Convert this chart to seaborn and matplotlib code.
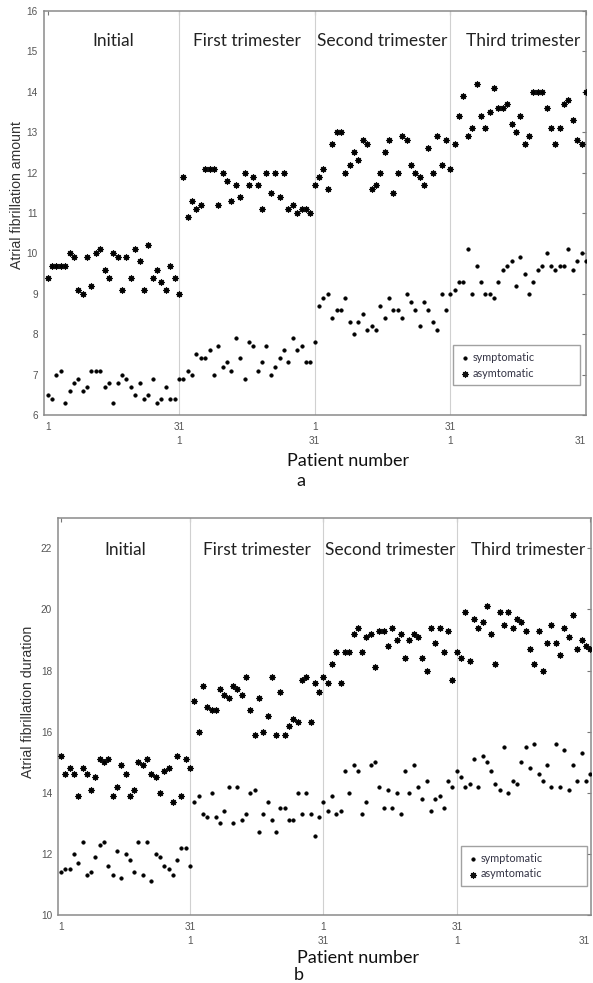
import numpy as np
import pandas as pd
import seaborn as sns
import matplotlib.pyplot as plt

sns.set_theme(style="white")
plt.rcParams['font.family'] = ['Liberation Sans', 'DejaVu Sans']

segments = ["Initial", "First trimester", "Second trimester", "Third trimester"]
groups = ["symptomatic", "asymtomatic"]
n_patients = 31

# ---- panel a: atrial fibrillation amount ----
amount_sym_initial = [6.5, 6.4, 7.0, 7.1, 6.3, 6.6, 6.8, 6.9, 6.6, 6.7, 7.1, 7.1, 7.1, 6.7, 6.8, 6.3,
                      6.8, 7.0, 6.9, 6.7, 6.5, 6.8, 6.4, 6.5, 6.9, 6.3, 6.4, 6.7, 6.4, 6.4, 6.9]
amount_sym_first = [6.9, 7.1, 7.0, 7.5, 7.4, 7.4, 7.6, 7.0, 7.7, 7.2, 7.3, 7.1, 7.9, 7.4, 6.9, 7.8,
                    7.7, 7.1, 7.3, 7.7, 7.0, 7.2, 7.4, 7.6, 7.3, 7.9, 7.6, 7.7, 7.3, 7.3, 7.8]
amount_sym_second = [8.7, 8.9, 9.0, 8.4, 8.6, 8.6, 8.9, 8.3, 8.0, 8.3, 8.5, 8.1, 8.2, 8.1, 8.7, 8.4,
                     8.9, 8.6, 8.6, 8.4, 9.0, 8.8, 8.6, 8.2, 8.8, 8.6, 8.3, 8.1, 9.0, 8.6, 9.0]
amount_sym_third = [9.1, 9.3, 9.3, 10.1, 9.0, 9.7, 9.3, 9.0, 9.0, 8.9, 9.3, 9.6, 9.7, 9.8, 9.2, 9.9,
                    9.5, 9.0, 9.3, 9.6, 9.7, 10.0, 9.7, 9.6, 9.7, 9.7, 10.1, 9.6, 9.8, 10.0, 9.8]
amount_asym_initial = [9.4, 9.7, 9.7, 9.7, 9.7, 10.0, 9.9, 9.1, 9.0, 9.9, 9.2, 10.0, 10.1, 9.6, 9.4, 10.0,
                       9.9, 9.1, 9.9, 9.4, 10.1, 9.8, 9.1, 10.2, 9.4, 9.6, 9.3, 9.1, 9.7, 9.4, 9.0]
amount_asym_first = [11.9, 10.9, 11.3, 11.1, 11.2, 12.1, 12.1, 12.1, 11.2, 12.0, 11.8, 11.3, 11.7, 11.4, 12.0, 11.7,
                     11.9, 11.7, 11.1, 12.0, 11.5, 12.0, 11.4, 12.0, 11.1, 11.2, 11.0, 11.1, 11.1, 11.0, 11.7]
amount_asym_second = [11.9, 12.1, 11.6, 12.7, 13.0, 13.0, 12.0, 12.2, 12.5, 12.3, 12.8, 12.7, 11.6, 11.7, 12.0, 12.5,
                      12.8, 11.5, 12.0, 12.9, 12.8, 12.2, 12.0, 11.9, 11.7, 12.6, 12.0, 12.9, 12.2, 12.8, 12.1]
amount_asym_third = [12.7, 13.4, 13.9, 12.9, 13.1, 14.2, 13.4, 13.1, 13.5, 14.1, 13.6, 13.6, 13.7, 13.2, 13.0, 13.4,
                     12.7, 12.9, 14.0, 14.0, 14.0, 13.6, 13.1, 12.7, 13.1, 13.7, 13.8, 13.3, 12.8, 12.7, 14.0]

# ---- panel b: atrial fibrillation duration ----
duration_sym_initial = [11.4, 11.5, 11.5, 12.0, 11.7, 12.4, 11.3, 11.4, 11.9, 12.3, 12.4, 11.6, 11.3, 12.1, 11.2, 12.0,
                        11.8, 11.4, 12.4, 11.3, 12.4, 11.1, 12.0, 11.9, 11.6, 11.5, 11.3, 11.8, 12.2, 12.2, 11.6]
duration_sym_first = [13.7, 13.9, 13.3, 13.2, 14.0, 13.2, 13.0, 13.4, 14.2, 13.0, 14.2, 13.1, 13.3, 14.0, 14.1, 12.7,
                      13.3, 13.7, 13.1, 12.7, 13.5, 13.5, 13.1, 13.1, 14.0, 13.3, 14.0, 13.3, 12.6, 13.2, 13.7]
duration_sym_second = [13.4, 13.9, 13.3, 13.4, 14.7, 14.0, 14.9, 14.7, 13.3, 13.7, 14.9, 15.0, 14.2, 13.5, 14.1, 13.5,
                       14.0, 13.3, 14.7, 14.0, 14.9, 14.2, 13.8, 14.4, 13.4, 13.8, 13.9, 13.5, 14.4, 14.2, 14.7]
duration_sym_third = [14.5, 14.2, 14.3, 15.1, 14.2, 15.2, 15.0, 14.7, 14.3, 14.1, 15.5, 14.0, 14.4, 14.3, 15.0, 15.5,
                      14.8, 15.6, 14.6, 14.4, 14.9, 14.2, 15.6, 14.2, 15.4, 14.1, 14.9, 14.4, 15.3, 14.4, 14.6]
duration_asym_initial = [15.2, 14.6, 14.8, 14.6, 13.9, 14.8, 14.6, 14.1, 14.5, 15.1, 15.0, 15.1, 13.9, 14.2, 14.9, 14.6,
                         13.9, 14.1, 15.0, 14.9, 15.1, 14.6, 14.5, 14.0, 14.7, 14.8, 13.7, 15.2, 13.9, 15.1, 14.8]
duration_asym_first = [17.0, 16.0, 17.5, 16.8, 16.7, 16.7, 17.4, 17.2, 17.1, 17.5, 17.4, 17.2, 17.8, 16.7, 15.9, 17.1,
                       16.0, 16.5, 17.8, 15.9, 17.3, 15.9, 16.2, 16.4, 16.3, 17.7, 17.8, 16.3, 17.6, 17.3, 17.8]
duration_asym_second = [17.6, 18.2, 18.6, 17.6, 18.6, 18.6, 19.2, 19.4, 18.6, 19.1, 19.2, 18.1, 19.3, 19.3, 18.8, 19.4,
                        19.0, 19.2, 18.4, 19.0, 19.2, 19.1, 18.4, 18.0, 19.4, 18.9, 19.4, 18.6, 19.3, 17.7, 18.6]
duration_asym_third = [18.4, 19.9, 18.3, 19.7, 19.4, 19.6, 20.1, 19.2, 18.2, 19.9, 19.5, 19.9, 19.4, 19.7, 19.6, 19.3,
                       18.7, 18.2, 19.3, 18.0, 18.9, 19.5, 18.9, 18.5, 19.4, 19.1, 19.8, 18.7, 19.0, 18.8, 18.7]

xtick_pos = [1, 31, 62, 93, 124]
xtick_labels = ["1", "31\n1", "1\n31", "31\n1", "\n31"]


def build_frame(sym_lists, asym_lists):
    rows = []
    for g, lists in zip(groups, [sym_lists, asym_lists]):
        for s, vals in enumerate(lists):
            for i, v in enumerate(vals):
                rows.append({"x": s * n_patients + i + 1, "value": v, "group": g, "segment": segments[s]})
    return pd.DataFrame(rows)


df_a = build_frame([amount_sym_initial, amount_sym_first, amount_sym_second, amount_sym_third],
                   [amount_asym_initial, amount_asym_first, amount_asym_second, amount_asym_third])
df_b = build_frame([duration_sym_initial, duration_sym_first, duration_sym_second, duration_sym_third],
                   [duration_asym_initial, duration_asym_first, duration_asym_second, duration_asym_third])

W, H = 593, 983
fig = plt.figure(figsize=(W / 100, H / 100), dpi=100)
fig.patch.set_facecolor("white")

def px_axes(left, top, right, bottom):
    return fig.add_axes([left / W, 1 - bottom / H, (right - left) / W, (bottom - top) / H])

ax_a = px_axes(43.5, 11, 586, 415)
ax_b = px_axes(57.7, 517.7, 591, 915)

title_font = ['Lato', 'DejaVu Sans']
asterisk = (8, 2, 0)


def draw(ax, df, ylim, yticks, ylabel, ylabel_xy, title_yfrac, xlim, leg_box):
    sym = df[df.group == "symptomatic"]
    asym = df[df.group == "asymtomatic"]
    sns.scatterplot(data=sym, x="x", y="value", ax=ax, marker="o", s=7, color="black",
                    edgecolor="black", linewidth=0.3, label="symptomatic", zorder=3)
    sns.scatterplot(data=asym, x="x", y="value", ax=ax, marker=asterisk, s=17, color="#111111",
                    linewidth=0.9, label="asymtomatic", zorder=3)
    ax.scatter(asym["x"], asym["value"], s=7, color="black", linewidth=0, zorder=3)
    for b in xtick_pos[1:-1]:
        ax.axvline(b, color="#d0d0d0", lw=0.8, zorder=1)
    ax.set_xlim(*xlim)
    ax.set_ylim(*ylim)
    ax.set_yticks(yticks)
    ax.set_yticklabels([str(t) for t in yticks])
    ax.set_xticks(xtick_pos)
    ax.set_xticklabels(xtick_labels, linespacing=1.45)
    ax.tick_params(axis="both", direction="in", length=3, width=0.8, colors="#777777",
                   labelcolor="#555555", labelsize=7.2, top=True, right=True)
    ax.tick_params(axis="x", pad=5)
    ax.tick_params(axis="y", pad=4)
    last = ax.get_xticklabels()[-1]
    last.set_horizontalalignment("right")
    for sp in ax.spines.values():
        sp.set_color("#8a8a8a")
        sp.set_linewidth(1.1)
    ax.set_xlabel("")
    ax.set_ylabel("")
    fig.text(ylabel_xy[0] / W, 1 - ylabel_xy[1] / H, ylabel, rotation=90, ha="center", va="center",
             fontsize=10.2, color="#333333")
    for s, name in enumerate(segments):
        lo = xtick_pos[s]
        hi = xtick_pos[s + 1]
        cx = (lo + hi) / 2 + (1.2 if s == 3 else 0)
        ax.text(cx, title_yfrac, name, transform=ax.get_xaxis_transform(), ha="center", va="center",
                fontsize=12.5, color="#222222", family=title_font)
    leg = ax.legend(loc="lower left", bbox_to_anchor=leg_box, mode="expand", frameon=True, fancybox=False,
                    fontsize=7.8, handletextpad=0.2, borderpad=0.6, labelspacing=0.45,
                    handlelength=1.0, borderaxespad=0)
    leg.get_frame().set_edgecolor("#8a8a8a")
    leg.get_frame().set_linewidth(1.0)
    for t in leg.get_texts():
        t.set_color("#333344")
        t.set_family(title_font)


draw(ax_a, df_a, (6, 16), list(range(6, 17)), "Atrial fibrillation amount", (17, 195), 0.926,
     (0.05, 124.0), (0.755, 0.074, 0.234, 0.094))
draw(ax_b, df_b, (10, 23), list(range(10, 23, 2)), "Atrial fibrillation duration", (28, 702), 0.919,
     (0.23, 124.2), (0.756, 0.073, 0.236, 0.09))

fig.text(348 / W, 1 - 461 / H, "Patient number", ha="center", va="center", fontsize=13,
         color="#111111", family=title_font)
fig.text(301 / W, 1 - 481 / H, "a", ha="center", va="center", fontsize=13, color="#111111", family=title_font)
fig.text(358 / W, 1 - 958 / H, "Patient number", ha="center", va="center", fontsize=13,
         color="#111111", family=title_font)
fig.text(299 / W, 1 - 975 / H, "b", ha="center", va="center", fontsize=13, color="#111111", family=title_font)

fig.savefig("out.png", dpi=100, facecolor="white")
